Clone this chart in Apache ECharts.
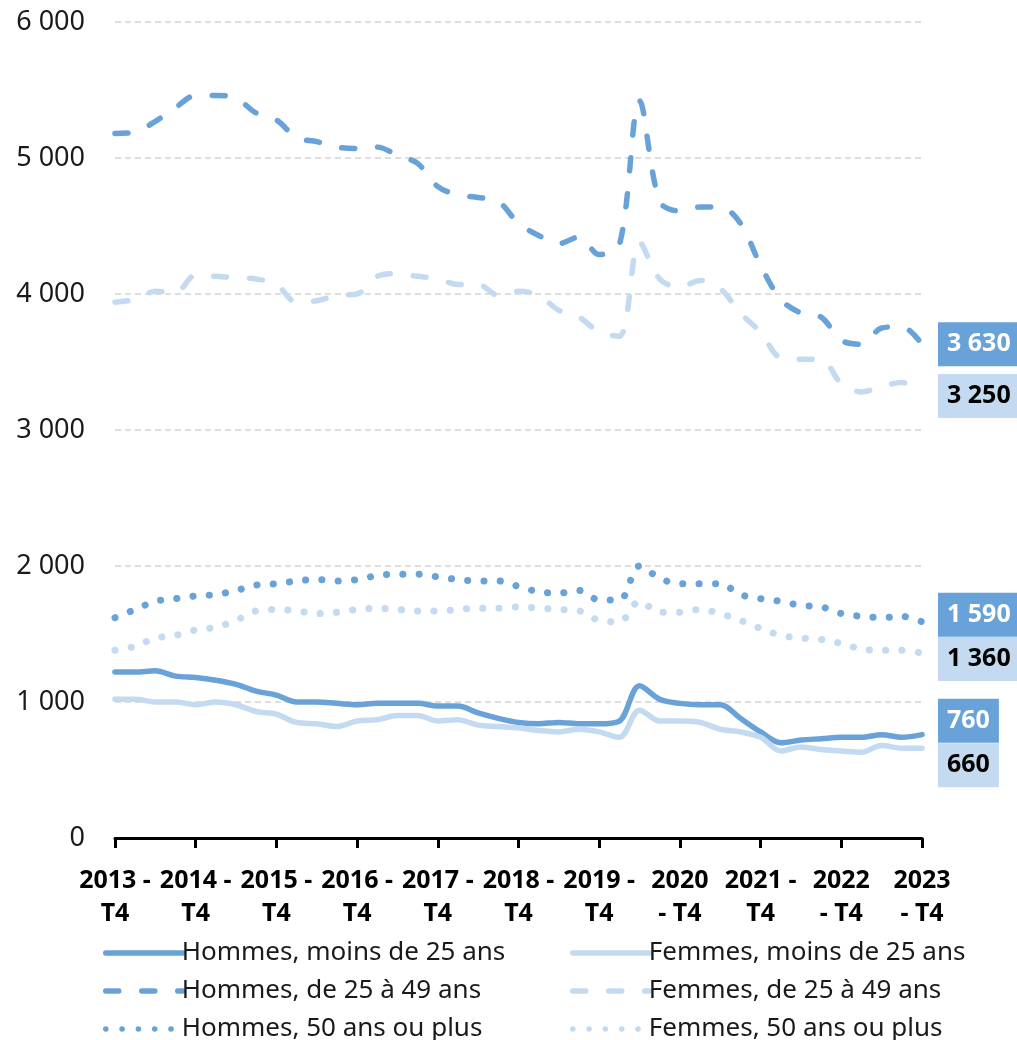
<!DOCTYPE html>
<html>
<head>
<meta charset="utf-8">
<script src="https://cdn.jsdelivr.net/npm/echarts@6/dist/echarts.min.js"></script>
<style>
html,body{margin:0;padding:0;background:#fff;}
#chart{width:1017px;height:1040px;}
</style>
</head>
<body>
<div id="chart"></div>
<script>
const quarters = [
  "2013 - T4",
  "2014 - T1","2014 - T2","2014 - T3","2014 - T4",
  "2015 - T1","2015 - T2","2015 - T3","2015 - T4",
  "2016 - T1","2016 - T2","2016 - T3","2016 - T4",
  "2017 - T1","2017 - T2","2017 - T3","2017 - T4",
  "2018 - T1","2018 - T2","2018 - T3","2018 - T4",
  "2019 - T1","2019 - T2","2019 - T3","2019 - T4",
  "2020 - T1","2020 - T2","2020 - T3","2020 - T4",
  "2021 - T1","2021 - T2","2021 - T3","2021 - T4",
  "2022 - T1","2022 - T2","2022 - T3","2022 - T4",
  "2023 - T1","2023 - T2","2023 - T3","2023 - T4"
];
const tickLabels = ["2013 -\nT4","2014 -\nT4","2015 -\nT4","2016 -\nT4","2017 -\nT4","2018 -\nT4","2019 -\nT4","2020\n- T4","2021 -\nT4","2022\n- T4","2023\n- T4"];
const yTicks = [0, 1000, 2000, 3000, 4000, 5000, 6000];

const hommesMoins25 = [1220,1220,1230,1190,1180,1160,1130,1080,1050,1000,1000,990,980,990,990,990,970,970,920,880,850,840,850,840,840,860,1120,1020,990,980,980,880,780,700,720,730,740,740,760,740,760];
const femmesMoins25 = [1020,1020,1000,1000,980,1000,980,930,910,850,840,820,860,870,900,900,860,870,830,820,810,790,780,800,780,740,940,860,860,850,800,780,740,640,670,650,640,630,680,660,660];
const hommes25a49 = [5180,5190,5270,5370,5460,5460,5440,5330,5280,5150,5120,5080,5070,5080,5020,4960,4790,4730,4710,4680,4520,4430,4370,4420,4290,4360,5420,4680,4610,4640,4640,4520,4210,3960,3860,3830,3660,3630,3750,3760,3630];
const femmes25a49 = [3940,3960,4020,4010,4140,4130,4120,4110,4070,3940,3950,3990,4000,4130,4150,4130,4110,4070,4070,3990,4020,3990,3880,3830,3720,3690,4380,4110,4050,4100,4040,3860,3720,3530,3520,3520,3340,3280,3320,3350,3250];
const hommes50plus = [1620,1680,1740,1760,1780,1790,1820,1860,1870,1890,1900,1890,1900,1930,1940,1940,1920,1900,1890,1890,1850,1810,1800,1820,1750,1750,2000,1910,1870,1870,1870,1790,1760,1740,1710,1700,1650,1630,1620,1630,1590];
const femmes50plus = [1380,1410,1470,1490,1530,1550,1600,1670,1680,1670,1650,1660,1680,1690,1680,1670,1670,1680,1690,1690,1700,1690,1680,1670,1600,1590,1740,1660,1660,1680,1650,1600,1540,1490,1470,1460,1430,1390,1380,1380,1360];

const seriesNames = ["Hommes, moins de 25 ans","Femmes, moins de 25 ans","Hommes, de 25 à 49 ans","Femmes, de 25 à 49 ans","Hommes, 50 ans ou plus","Femmes, 50 ans ou plus"];

const DARK = "#69A2D8";
const LIGHT = "#C4DAF0";
const FONT = "'Noto Sans', 'Open Sans', sans-serif";

function fmt(v){
  const s = String(Math.round(v));
  return s.replace(/\B(?=(\d{3})+(?!\d))/g, " ");
}

function mkSeries(name, data, color, kind, labelOffsetY, labelTextColor){
  const ls = {color: color, width: 5.5, cap: 'round', join: 'round'};
  if (kind === 'dash') { ls.type = [13, 23]; }
  else if (kind === 'dot') { ls.type = [0.1, 16.2]; ls.width = 7; }
  else { ls.type = 'solid'; ls.width = 5.5; }
  return {
    name: name,
    type: 'line',
    data: data,
    smooth: 0.33,
    symbol: 'none',
    showSymbol: false,
    color: color,
    lineStyle: ls,
    emphasis: {disabled: true},
    endLabel: {
      show: true,
      formatter: p => fmt(p.value),
      distance: 16,
      offset: [0, labelOffsetY],
      backgroundColor: color,
      color: labelTextColor,
      fontFamily: FONT,
      fontWeight: 'bold',
      fontSize: 25,
      lineHeight: 26,
      padding: [9, 9, 9, 9]
    }
  };
}

function mkLegend(left, names){
  return {
    left: left, top: 940, height: 140, orient: 'vertical',
    padding: 0,
    itemWidth: 77, itemHeight: 14, itemGap: 12,
    selectedMode: false,
    itemStyle: {opacity: 0},
    lineStyle: {width: 5.5, cap: 'round'},
    data: names,
    textStyle: {fontFamily: FONT, fontSize: 26, lineHeight: 26, color: '#1a1a1a', padding: [0, 0, 0, -6]}
  };
}

const chart = echarts.init(document.getElementById('chart'), null, {renderer: 'canvas'});
const option = {
  animation: false,
  backgroundColor: '#fff',
  grid: {left: 115, right: 95, top: 22, bottom: 202, containLabel: false},
  xAxis: {
    type: 'category',
    data: quarters,
    boundaryGap: false,
    axisLine: {lineStyle: {color: '#000', width: 3}},
    axisTick: {interval: 3, length: 10, lineStyle: {color: '#000', width: 3}},
    axisLabel: {
      interval: 3,
      formatter: (v, i) => tickLabels[Math.round(i / 4)],
      fontFamily: FONT,
      fontWeight: 'bold',
      fontSize: 25,
      lineHeight: 33,
      color: '#000',
      margin: 26
    },
    splitLine: {show: false}
  },
  yAxis: {
    type: 'value',
    min: yTicks[0],
    max: yTicks[yTicks.length - 1],
    interval: 1000,
    axisLine: {show: false},
    axisTick: {show: false},
    axisLabel: {
      formatter: v => fmt(v),
      fontFamily: FONT,
      fontSize: 27,
      color: '#1a1a1a',
      margin: 30
    },
    splitLine: {lineStyle: {color: '#d4d4d4', width: 1.5, type: [6, 4]}}
  },
  legend: [
    mkLegend(103, [seriesNames[0], seriesNames[2], seriesNames[4]]),
    mkLegend(570, [seriesNames[1], seriesNames[3], seriesNames[5]])
  ],
  series: [
    mkSeries(seriesNames[0], hommesMoins25, DARK, 'solid', -14, '#fff'),
    mkSeries(seriesNames[1], femmesMoins25, LIGHT, 'solid', 17, '#000'),
    mkSeries(seriesNames[2], hommes25a49, DARK, 'dash', 0, '#fff'),
    mkSeries(seriesNames[3], femmes25a49, LIGHT, 'dash', 0, '#000'),
    mkSeries(seriesNames[4], hommes50plus, DARK, 'dot', -7, '#fff'),
    mkSeries(seriesNames[5], femmes50plus, LIGHT, 'dot', 6, '#000')
  ]
};
chart.setOption(option);
</script>
</body>
</html>
